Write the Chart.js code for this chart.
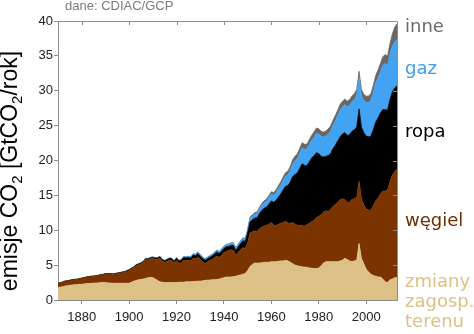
<!DOCTYPE html>
<html lang="pl">
<head>
<meta charset="utf-8">
<title>Emisje CO2</title>
<script src="https://cdn.jsdelivr.net/npm/chart.js@4/dist/chart.umd.min.js"></script>
<style>
  html, body { margin: 0; padding: 0; background: #fff; }
</style>
</head>
<body>
<canvas id="chart" width="474" height="334"></canvas>
<script>
// emisje CO2 wg źródła, GtCO2/rok, od 1870 co rok
const FIRST_YEAR = 1870;

const LAND_USE = [
  1.80, 1.85, 1.90, 2.00, 2.05, 2.10, 2.15, 2.20, 2.20, 2.25,
  2.25, 2.30, 2.35, 2.35, 2.40, 2.40, 2.45, 2.45, 2.50, 2.50,
  2.50, 2.45, 2.45, 2.40, 2.40, 2.40, 2.40, 2.40, 2.40, 2.40,
  2.40, 2.55, 2.70, 2.80, 2.90, 2.95, 3.00, 3.10, 3.20, 3.25,
  3.20, 3.00, 2.80, 2.60, 2.55, 2.50, 2.50, 2.50, 2.50, 2.50,
  2.50, 2.55, 2.55, 2.55, 2.60, 2.60, 2.60, 2.65, 2.65, 2.70,
  2.70, 2.75, 2.80, 2.85, 2.85, 2.90, 2.90, 2.95, 3.00, 3.10,
  3.20, 3.30, 3.30, 3.30, 3.35, 3.40, 3.50, 3.60, 3.70, 3.80,
  4.20, 4.80, 5.10, 5.30, 5.30, 5.30, 5.35, 5.40, 5.40, 5.40,
  5.50, 5.50, 5.50, 5.55, 5.60, 5.60, 5.70, 5.60, 5.40, 5.20,
  5.00, 4.90, 4.80, 4.75, 4.70, 4.70, 4.60, 4.55, 4.50, 4.50,
  4.60, 4.90, 5.30, 5.50, 5.50, 5.50, 5.50, 5.50, 5.50, 5.60,
  5.70, 6.00, 5.80, 5.60, 5.50, 5.60, 5.70, 8.10, 5.90, 5.20,
  4.40, 4.00, 3.70, 3.50, 3.40, 3.30, 3.30, 3.00, 2.60, 2.50,
  2.90, 3.00, 3.20, 3.20
];

const COAL = [
  0.60, 0.62, 0.66, 0.70, 0.68, 0.70, 0.72, 0.74, 0.74, 0.80,
  0.85, 0.88, 0.92, 0.96, 0.98, 0.98, 1.00, 1.05, 1.10, 1.12,
  1.22, 1.28, 1.28, 1.28, 1.32, 1.40, 1.46, 1.52, 1.60, 1.72,
  1.85, 1.92, 1.95, 2.15, 2.15, 2.25, 2.40, 2.70, 2.55, 2.65,
  2.75, 2.85, 3.05, 3.40, 3.00, 2.90, 3.05, 3.20, 3.15, 2.75,
  3.15, 2.70, 2.80, 3.15, 3.05, 3.10, 3.00, 3.35, 3.25, 3.45,
  3.10, 2.75, 2.45, 2.60, 2.80, 2.90, 3.15, 3.35, 3.10, 3.30,
  3.60, 3.70, 3.80, 3.90, 3.80, 3.05, 3.30, 3.60, 3.80, 3.60,
  4.00, 4.80, 4.70, 4.60, 4.50, 4.90, 5.10, 5.20, 5.30, 5.50,
  5.60, 5.20, 5.20, 5.30, 5.40, 5.50, 5.60, 5.40, 5.60, 5.90,
  5.90, 5.80, 5.90, 5.90, 5.90, 6.10, 6.40, 6.70, 6.90, 7.30,
  7.40, 7.30, 7.30, 7.30, 7.20, 7.50, 7.90, 8.20, 8.50, 8.80,
  8.80, 8.40, 8.20, 8.40, 8.90, 8.90, 9.00, 8.90, 8.60, 8.50,
  8.60, 8.90, 9.20, 10.00, 10.80, 11.30, 11.90, 12.60, 13.00, 13.30,
  14.00, 14.90, 15.20, 15.50
];

const OIL = [
  0.01, 0.01, 0.01, 0.01, 0.01, 0.02, 0.02, 0.02, 0.02, 0.02,
  0.02, 0.02, 0.02, 0.03, 0.03, 0.03, 0.03, 0.03, 0.04, 0.04,
  0.04, 0.04, 0.05, 0.05, 0.05, 0.05, 0.06, 0.06, 0.06, 0.07,
  0.07, 0.08, 0.08, 0.09, 0.10, 0.10, 0.10, 0.12, 0.13, 0.14,
  0.15, 0.16, 0.17, 0.19, 0.20, 0.21, 0.23, 0.25, 0.25, 0.28,
  0.33, 0.33, 0.34, 0.38, 0.38, 0.40, 0.40, 0.44, 0.46, 0.50,
  0.48, 0.46, 0.44, 0.46, 0.48, 0.50, 0.54, 0.58, 0.58, 0.60,
  0.60, 0.62, 0.58, 0.62, 0.66, 0.64, 0.80, 0.90, 1.00, 1.00,
  1.40, 1.60, 1.70, 1.85, 2.00, 2.20, 2.40, 2.55, 2.65, 2.85,
  3.10, 3.30, 3.60, 3.90, 4.20, 4.70, 5.00, 5.40, 5.90, 6.60,
  7.10, 7.50, 8.20, 8.90, 8.70, 8.50, 8.80, 9.10, 9.30, 9.30,
  9.00, 8.40, 7.90, 7.80, 8.00, 8.00, 8.30, 8.50, 8.80, 9.00,
  9.30, 9.60, 9.60, 9.70, 9.80, 9.90, 10.10, 10.40, 10.30, 10.30,
  10.50, 10.50, 10.60, 10.90, 11.30, 11.50, 11.60, 11.70, 11.70, 11.40,
  11.80, 11.90, 12.00, 12.00
];

const GAS = [
  0.00, 0.00, 0.00, 0.00, 0.00, 0.00, 0.00, 0.00, 0.00, 0.00,
  0.00, 0.00, 0.00, 0.00, 0.00, 0.01, 0.01, 0.01, 0.01, 0.01,
  0.01, 0.01, 0.01, 0.01, 0.01, 0.02, 0.02, 0.02, 0.02, 0.02,
  0.03, 0.03, 0.03, 0.03, 0.03, 0.04, 0.04, 0.05, 0.05, 0.05,
  0.06, 0.06, 0.06, 0.07, 0.07, 0.07, 0.08, 0.08, 0.08, 0.08,
  0.09, 0.09, 0.10, 0.12, 0.13, 0.14, 0.15, 0.16, 0.17, 0.20,
  0.20, 0.19, 0.18, 0.18, 0.19, 0.20, 0.22, 0.24, 0.24, 0.25,
  0.27, 0.29, 0.30, 0.32, 0.34, 0.34, 0.32, 0.34, 0.36, 0.36,
  0.40, 0.48, 0.52, 0.55, 0.58, 0.64, 0.70, 0.76, 0.80, 0.88,
  0.95, 1.00, 1.10, 1.20, 1.28, 1.36, 1.44, 1.54, 1.66, 1.80,
  1.95, 2.05, 2.15, 2.25, 2.30, 2.35, 2.45, 2.50, 2.60, 2.75,
  2.80, 2.85, 2.85, 2.90, 3.10, 3.20, 3.30, 3.50, 3.60, 3.80,
  3.90, 4.00, 4.10, 4.20, 4.20, 4.30, 4.50, 4.50, 4.50, 4.60,
  4.80, 4.90, 5.10, 5.30, 5.60, 5.70, 5.90, 6.30, 6.60, 6.40,
  6.50, 6.50, 6.60, 6.60
];

// cement, spalanie gazu w pochodniach itp.
const OTHER = [
  0.00, 0.00, 0.00, 0.00, 0.00, 0.00, 0.00, 0.00, 0.00, 0.00,
  0.00, 0.00, 0.00, 0.00, 0.00, 0.00, 0.00, 0.00, 0.00, 0.00,
  0.00, 0.00, 0.00, 0.00, 0.00, 0.00, 0.00, 0.00, 0.00, 0.00,
  0.01, 0.01, 0.01, 0.01, 0.01, 0.01, 0.01, 0.01, 0.01, 0.01,
  0.01, 0.01, 0.01, 0.01, 0.01, 0.01, 0.01, 0.01, 0.01, 0.01,
  0.02, 0.02, 0.02, 0.03, 0.03, 0.03, 0.03, 0.04, 0.04, 0.04,
  0.04, 0.04, 0.03, 0.03, 0.04, 0.04, 0.05, 0.05, 0.05, 0.05,
  0.06, 0.06, 0.06, 0.06, 0.06, 0.05, 0.06, 0.07, 0.08, 0.08,
  0.15, 0.18, 0.20, 0.22, 0.24, 0.26, 0.30, 0.32, 0.34, 0.36,
  0.38, 0.40, 0.42, 0.45, 0.48, 0.50, 0.53, 0.56, 0.60, 0.64,
  0.68, 0.70, 0.72, 0.75, 0.72, 0.70, 0.74, 0.76, 0.78, 0.80,
  0.76, 0.74, 0.72, 0.72, 0.74, 0.74, 0.76, 0.78, 0.80, 0.82,
  0.80, 0.80, 0.80, 0.82, 0.84, 0.86, 0.88, 0.88, 0.88, 0.90,
  0.92, 0.95, 0.98, 1.05, 1.10, 1.15, 1.20, 1.25, 1.30, 1.35,
  1.50, 1.80, 2.10, 2.30
];

const YEARS = LAND_USE.map((_, i) => FIRST_YEAR + i);
const X_TICKS = [1880, 1900, 1920, 1940, 1960, 1980, 2000];
const Y_TICKS = [0, 5, 10, 15, 20, 25, 30, 35, 40];

// od dołu stosu do góry; etykiety z prawej strony wykresu
const SERIES = [
  { name: "zmiany zagosp. terenu", values: LAND_USE, fill: "#dcc086", text: "#dcc086",
    lines: ["zmiany", "zagosp.", "terenu"], baselines: [287, 307, 327] },
  { name: "węgiel", values: COAL, fill: "#7b3300", text: "#6e2e00", lines: ["węgiel"], baselines: [226] },
  { name: "ropa", values: OIL, fill: "#000000", text: "#000000", lines: ["ropa"], baselines: [137] },
  { name: "gaz", values: GAS, fill: "#42a3f3", text: "#3a9ff0", lines: ["gaz"], baselines: [74] },
  { name: "inne", values: OTHER, fill: "#686868", text: "#6a6a6a", lines: ["inne"], baselines: [32] }
];

const AXIS_COLOR = "#8c8c8c";
const TICK_LEN = 4;
const TICK_FONT = { family: "'Liberation Sans', Arial, sans-serif", size: 13 };

// ramka u góry i z prawej, z kreskami skierowanymi do środka
const framePlugin = {
  id: "frame",
  afterDraw(chart) {
    const { ctx, chartArea: a, scales } = chart;
    ctx.save();
    ctx.strokeStyle = AXIS_COLOR;
    ctx.lineWidth = 1;
    ctx.beginPath();
    ctx.moveTo(a.left, a.top + 0.5);
    ctx.lineTo(a.right + 0.5, a.top + 0.5);
    ctx.lineTo(a.right + 0.5, a.bottom);
    X_TICKS.forEach((v) => {
      const x = Math.round(scales.x.getPixelForValue(v)) + 0.5;
      ctx.moveTo(x, a.top);
      ctx.lineTo(x, a.top + TICK_LEN);
    });
    Y_TICKS.forEach((v) => {
      const y = Math.round(scales.y.getPixelForValue(v)) + 0.5;
      ctx.moveTo(a.right, y);
      ctx.lineTo(a.right - TICK_LEN, y);
    });
    ctx.stroke();
    ctx.restore();
  }
};

function drawRotatedTitle(ctx, parts, cx, cy) {
  ctx.save();
  ctx.translate(cx, cy);
  ctx.rotate(-Math.PI / 2);
  ctx.fillStyle = "#000";
  ctx.textBaseline = "alphabetic";
  let total = 0;
  parts.forEach((p) => {
    ctx.font = p.sub ? "15px 'Liberation Sans', Arial, sans-serif" : "23px 'Liberation Sans', Arial, sans-serif";
    p.width = ctx.measureText(p.text).width;
    total += p.width;
  });
  let x = -total / 2;
  parts.forEach((p) => {
    ctx.font = p.sub ? "15px 'Liberation Sans', Arial, sans-serif" : "23px 'Liberation Sans', Arial, sans-serif";
    ctx.fillText(p.text, x, p.sub ? 5 : 0);
    x += p.width;
  });
  ctx.restore();
}

const labelsPlugin = {
  id: "labels",
  afterDraw(chart) {
    const { ctx } = chart;
    ctx.save();
    ctx.textAlign = "left";
    ctx.textBaseline = "alphabetic";

    ctx.font = "13px 'Liberation Sans', Arial, sans-serif";
    ctx.fillStyle = "#7a7a7a";
    ctx.fillText("dane: CDIAC/GCP", 65, 10);

    ctx.font = "18px 'DejaVu Sans', Verdana, sans-serif";
    SERIES.forEach((s) => {
      ctx.fillStyle = s.text;
      s.lines.forEach((line, i) => ctx.fillText(line, 405, s.baselines[i]));
    });
    ctx.restore();

    drawRotatedTitle(ctx, [
      { text: "emisje CO" },
      { text: "2", sub: true },
      { text: " [GtCO" },
      { text: "2", sub: true },
      { text: "/rok]" }
    ], 17, 171);
  }
};

new Chart(document.getElementById("chart"), {
  type: "line",
  data: {
    datasets: SERIES.map((s, i) => ({
      label: s.name,
      data: s.values.map((v, j) => ({ x: YEARS[j], y: v })),
      backgroundColor: s.fill,
      borderColor: s.fill,
      borderWidth: 0.8,
      pointRadius: 0,
      tension: 0,
      fill: i === 0 ? "origin" : "-1"
    }))
  },
  options: {
    responsive: false,
    animation: false,
    events: [],
    layout: { padding: { left: 0, right: 77, top: 21, bottom: 0 } },
    plugins: {
      legend: { display: false },
      tooltip: { enabled: false }
    },
    scales: {
      x: {
        type: "linear",
        min: FIRST_YEAR,
        max: YEARS[YEARS.length - 1],
        afterBuildTicks: (scale) => { scale.ticks = X_TICKS.map((value) => ({ value })); },
        afterFit: (scale) => { scale.height = 34; },
        ticks: {
          color: "#222",
          font: TICK_FONT,
          padding: 6,
          maxRotation: 0,
          autoSkip: false,
          callback: (value) => String(value)
        },
        grid: { drawOnChartArea: false, tickLength: TICK_LEN, color: AXIS_COLOR },
        border: { color: AXIS_COLOR }
      },
      y: {
        stacked: true,
        min: 0,
        max: 40,
        afterBuildTicks: (scale) => { scale.ticks = Y_TICKS.map((value) => ({ value })); },
        afterFit: (scale) => { scale.width = 58; },
        ticks: { color: "#222", font: TICK_FONT, padding: 1 },
        grid: { drawOnChartArea: false, tickLength: TICK_LEN, color: AXIS_COLOR },
        border: { color: AXIS_COLOR }
      }
    }
  },
  plugins: [framePlugin, labelsPlugin]
});
</script>
</body>
</html>
